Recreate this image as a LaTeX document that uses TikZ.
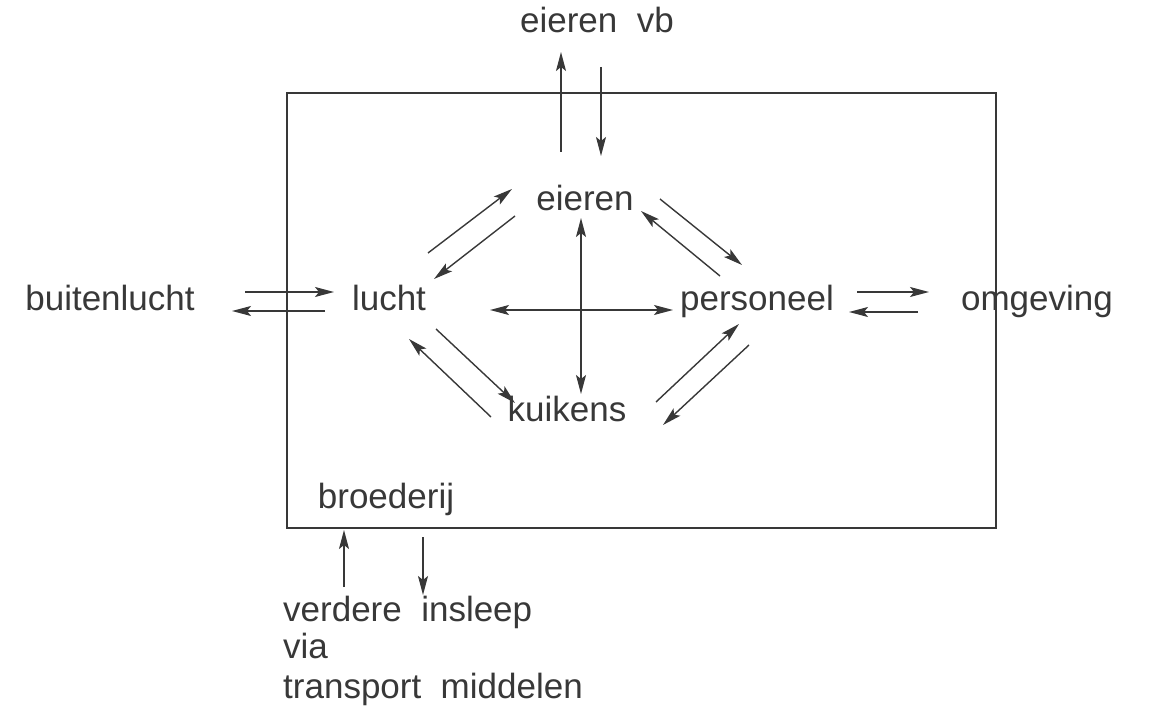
\documentclass[tikz,border=0pt]{standalone}
\usepackage{fontspec}
\setmainfont{Liberation Sans}
\usetikzlibrary{arrows.meta}
\definecolor{ink}{HTML}{383838}
\tikzset{
  lbl/.style={text=ink, font=\fontsize{35}{40}\selectfont, inner sep=0pt, anchor=base},
  tip/.tip={Stealth[length=19pt,width=10pt,inset=4pt]},
  arr/.style={draw=ink, line width=1.4pt, -tip},
  darr/.style={draw=ink, line width=1.4pt, tip-tip},
  frame/.style={draw=ink, line width=1.4pt}
}
\begin{document}
\begin{tikzpicture}[x=1pt,y=-1pt]
\useasboundingbox (0,0) rectangle (1160,711);
% box
\draw[frame] (287,93) rectangle (996,528);
% labels
\node[lbl] (top) at (597,33) {eieren\ \ vb};
\node[lbl] (eieren) at (585,211) {eieren};
\node[lbl] (lucht) at (389,311) {lucht};
\node[lbl] (buiten) at (110,311) {buitenlucht};
\node[lbl] (pers) at (757,311) {personeel};
\node[lbl] (omg) at (1037,311) {omgeving};
\node[lbl] (kuik) at (567,421) {kuikens};
\node[lbl] (broed) at (386,508) {broederij};
\node[lbl, anchor=base west] (v1) at (283,621) {verdere\ \ insleep};
\node[lbl, anchor=base west] (v2) at (283,658) {via};
\node[lbl, anchor=base west] (v3) at (283,698) {transport\ \ middelen};
% coordinates for arrow ends
\coordinate (t1a) at (561,152); \coordinate (t1b) at (561,52);
\coordinate (t2a) at (601,67);  \coordinate (t2b) at (601,156);
\coordinate (b1a) at (344,587); \coordinate (b1b) at (344,530);
\coordinate (b2a) at (423,537); \coordinate (b2b) at (423,595);
\coordinate (l1a) at (245,292); \coordinate (l1b) at (334,292);
\coordinate (l2a) at (325,311); \coordinate (l2b) at (232,311);
\coordinate (r1a) at (857,292); \coordinate (r1b) at (929,292);
\coordinate (r2a) at (918,312); \coordinate (r2b) at (849,312);
\coordinate (h1) at (490,310); \coordinate (h2) at (673,310);
\coordinate (v1a) at (581,218); \coordinate (v1b) at (581,394);
\coordinate (le1a) at (428,253); \coordinate (le1b) at (512,189);
\coordinate (le2a) at (515,216); \coordinate (le2b) at (434,279);
\coordinate (ep1a) at (660,199); \coordinate (ep1b) at (742,265);
\coordinate (ep2a) at (720,276); \coordinate (ep2b) at (641,211);
\coordinate (lk1a) at (436,329); \coordinate (lk1b) at (515,403);
\coordinate (lk2a) at (491,417); \coordinate (lk2b) at (409,339);
\coordinate (kp1a) at (656,402); \coordinate (kp1b) at (739,324);
\coordinate (kp2a) at (749,345); \coordinate (kp2b) at (663,425);
% arrows
\draw[arr] (t1a) -- (t1b);
\draw[arr] (t2a) -- (t2b);
\draw[arr] (b1a) -- (b1b);
\draw[arr] (b2a) -- (b2b);
\draw[arr] (l1a) -- (l1b);
\draw[arr] (l2a) -- (l2b);
\draw[arr] (r1a) -- (r1b);
\draw[arr] (r2a) -- (r2b);
\draw[darr] (h1) -- (h2);
\draw[darr] (v1a) -- (v1b);
\draw[arr] (le1a) -- (le1b);
\draw[arr] (le2a) -- (le2b);
\draw[arr] (ep1a) -- (ep1b);
\draw[arr] (ep2a) -- (ep2b);
\draw[arr] (lk1a) -- (lk1b);
\draw[arr] (lk2a) -- (lk2b);
\draw[arr] (kp1a) -- (kp1b);
\draw[arr] (kp2a) -- (kp2b);
\end{tikzpicture}
\end{document}
